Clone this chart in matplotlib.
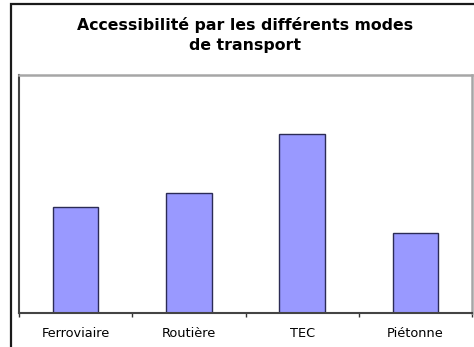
import numpy as np
import matplotlib.pyplot as plt
from matplotlib.patches import Rectangle

DPI = 100
WIDTH, HEIGHT = 474, 347

modes = ["Ferroviaire", "Routière", "TEC", "Piétonne"]
accessibilite = [1.78, 2.02, 3.01, 1.34]

fig = plt.figure(figsize=(WIDTH / DPI, HEIGHT / DPI), dpi=DPI)
fig.patch.set_facecolor("white")

# outer chart frame, runs off the right and bottom edges
fig.patches.append(Rectangle((11 / WIDTH, -0.05), 1.2, 1.05 - 4 / HEIGHT,
                             transform=fig.transFigure, fill=False,
                             edgecolor="#1a1a1a", linewidth=1.6, clip_on=False))

fig.text(245 / WIDTH, 1 - 35 / HEIGHT,
         "Accessibilité par les différents modes\nde transport",
         ha="center", va="center", fontsize=11.3, fontweight="bold",
         linespacing=1.4, family="DejaVu Sans")

ax = fig.add_axes([19 / WIDTH, (HEIGHT - 313) / HEIGHT,
                   (472 - 19) / WIDTH, (313 - 75) / HEIGHT])
x = np.arange(len(modes))
ax.bar(x, accessibilite, width=0.4, color="#9999ff",
       edgecolor="#2b2b55", linewidth=1.0)
ax.set_xlim(-0.5, len(modes) - 0.5)
ax.set_ylim(0, 4)
ax.set_yticks([])

ax.set_xticks(x)
ax.set_xticklabels(modes, fontsize=9.3)
ax.tick_params(axis="x", which="major", length=0, pad=10)
ax.set_xticks(np.arange(len(modes) + 1) - 0.5, minor=True)
ax.tick_params(axis="x", which="minor", length=3, width=1, color="#333333")

for side in ["left", "bottom"]:
    ax.spines[side].set_color("#444444")
    ax.spines[side].set_linewidth(1.5)
for side in ["top", "right"]:
    ax.spines[side].set_color("#a6a6a6")
    ax.spines[side].set_linewidth(1.8)

fig.savefig("out.png", dpi=DPI)
